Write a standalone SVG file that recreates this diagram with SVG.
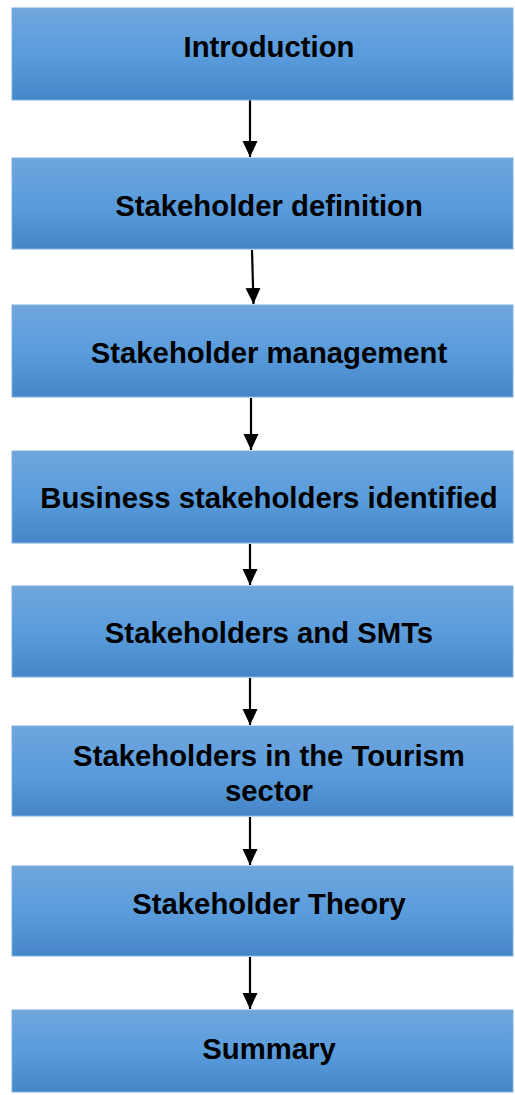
<svg xmlns="http://www.w3.org/2000/svg" width="515" height="1095" viewBox="0 0 515 1095">
<style>
.box{fill:url(#g);stroke:#7eb0e2;stroke-width:1}
.t{font-family:"Liberation Sans",Arial,sans-serif;font-weight:bold;font-size:29.3px;fill:#000;text-anchor:middle}
.c{stroke:#000;stroke-width:2.2;fill:none;marker-end:url(#ah)}
</style>
<defs>
<linearGradient id="g" x1="0" y1="0" x2="0" y2="1">
<stop offset="0" stop-color="#70a6dd"/>
<stop offset="0.5" stop-color="#5a9cdc"/>
<stop offset="1" stop-color="#4686c8"/>
</linearGradient>
<marker id="ah" markerWidth="16" markerHeight="16" refX="16" refY="8" orient="auto" markerUnits="userSpaceOnUse">
<path d="M0,0.5 L16,8 L0,15.5 Z" fill="#000"/>
</marker>
</defs>
<g id="connectors">
<line class="c" x1="250" y1="100" x2="250" y2="157"/>
<line class="c" x1="252" y1="250" x2="253.5" y2="304"/>
<line class="c" x1="251" y1="398" x2="251" y2="450"/>
<line class="c" x1="250" y1="544" x2="250" y2="585"/>
<line class="c" x1="250" y1="678" x2="250" y2="725"/>
<line class="c" x1="250" y1="817" x2="250" y2="865"/>
<line class="c" x1="250" y1="957" x2="250" y2="1009"/>
</g>
<g id="n1"><rect class="box" x="12" y="8" width="501" height="92"/><text class="t" x="269" y="57">Introduction</text></g>
<g id="n2"><rect class="box" x="12" y="158" width="501" height="91"/><text class="t" x="269" y="216">Stakeholder definition</text></g>
<g id="n3"><rect class="box" x="12" y="305" width="501" height="92"/><text class="t" x="269" y="363">Stakeholder management</text></g>
<g id="n4"><rect class="box" x="12" y="451" width="501" height="92"/><text class="t" x="269" y="508">Business stakeholders identified</text></g>
<g id="n5"><rect class="box" x="12" y="586" width="501" height="91"/><text class="t" x="269" y="643">Stakeholders and SMTs</text></g>
<g id="n6"><rect class="box" x="12" y="726" width="501" height="90"/><text class="t" x="269" y="766">Stakeholders in the Tourism</text><text class="t" x="269" y="801">sector</text></g>
<g id="n7"><rect class="box" x="12" y="866" width="501" height="90"/><text class="t" x="269" y="914">Stakeholder Theory</text></g>
<g id="n8"><rect class="box" x="12" y="1010" width="501" height="82"/><text class="t" x="269" y="1059">Summary</text></g>
</svg>
